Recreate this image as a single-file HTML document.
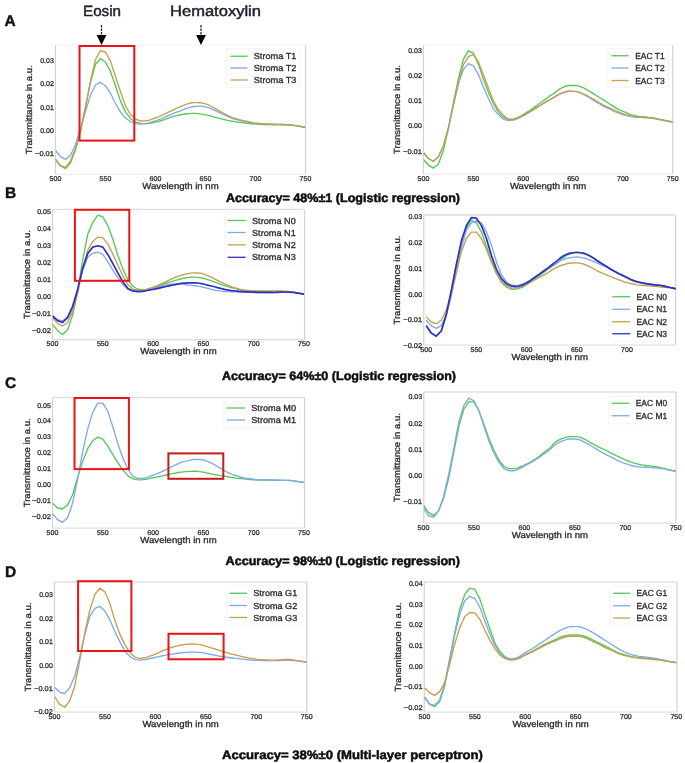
<!DOCTYPE html><html><head><meta charset="utf-8"><style>html,body{margin:0;padding:0;background:#fff;}svg{display:block;filter:blur(0.45px);}</style></head><body>
<svg width="685" height="763" viewBox="0 0 685 763" font-family='"Liberation Sans", sans-serif' text-rendering="geometricPrecision">
<rect width="685" height="763" fill="#ffffff"/>
<clipPath id="clipAL"><rect x="55.5" y="45" width="250.0" height="129.4"/></clipPath>
<line x1="55.5" y1="45" x2="305.5" y2="45" stroke="#f7f7f7" stroke-width="1.3"/>
<line x1="55.5" y1="174.4" x2="305.5" y2="174.4" stroke="#efefef" stroke-width="1.3"/>
<line x1="55.5" y1="45" x2="55.5" y2="174.4" stroke="#d2d2d2" stroke-width="1.2"/>
<line x1="305.5" y1="45" x2="305.5" y2="174.4" stroke="#d2d2d2" stroke-width="1.2"/>
<text x="53.90" y="62.70" font-size="7.0" text-anchor="end" fill="#333333" stroke="#333333" stroke-width="0.3" textLength="13.69" lengthAdjust="spacingAndGlyphs">0.03</text>
<text x="53.90" y="86.10" font-size="7.0" text-anchor="end" fill="#333333" stroke="#333333" stroke-width="0.3" textLength="13.69" lengthAdjust="spacingAndGlyphs">0.02</text>
<text x="53.90" y="109.50" font-size="7.0" text-anchor="end" fill="#333333" stroke="#333333" stroke-width="0.3" textLength="13.69" lengthAdjust="spacingAndGlyphs">0.01</text>
<text x="53.90" y="132.90" font-size="7.0" text-anchor="end" fill="#333333" stroke="#333333" stroke-width="0.3" textLength="13.69" lengthAdjust="spacingAndGlyphs">0.00</text>
<text x="53.90" y="156.30" font-size="7.0" text-anchor="end" fill="#333333" stroke="#333333" stroke-width="0.3" textLength="18.84" lengthAdjust="spacingAndGlyphs">−0.01</text>
<text x="55.50" y="180.80" font-size="7.0" text-anchor="middle" fill="#333333" stroke="#333333" stroke-width="0.3" textLength="11.73" lengthAdjust="spacingAndGlyphs">500</text>
<text x="105.50" y="180.80" font-size="7.0" text-anchor="middle" fill="#333333" stroke="#333333" stroke-width="0.3" textLength="11.73" lengthAdjust="spacingAndGlyphs">550</text>
<text x="155.50" y="180.80" font-size="7.0" text-anchor="middle" fill="#333333" stroke="#333333" stroke-width="0.3" textLength="11.73" lengthAdjust="spacingAndGlyphs">600</text>
<text x="205.50" y="180.80" font-size="7.0" text-anchor="middle" fill="#333333" stroke="#333333" stroke-width="0.3" textLength="11.73" lengthAdjust="spacingAndGlyphs">650</text>
<text x="255.50" y="180.80" font-size="7.0" text-anchor="middle" fill="#333333" stroke="#333333" stroke-width="0.3" textLength="11.73" lengthAdjust="spacingAndGlyphs">700</text>
<text x="305.50" y="180.80" font-size="7.0" text-anchor="middle" fill="#333333" stroke="#333333" stroke-width="0.3" textLength="11.73" lengthAdjust="spacingAndGlyphs">750</text>
<text x="180.50" y="188.90" font-size="8.9" text-anchor="middle" fill="#2a2a2a" stroke="#2a2a2a" stroke-width="0.3" textLength="76.34" lengthAdjust="spacingAndGlyphs">Wavelength in nm</text>
<text transform="translate(32.40,109.70) rotate(-90)" x="0" y="0" font-size="8.9" text-anchor="middle" fill="#2a2a2a" stroke="#2a2a2a" stroke-width="0.3" textLength="88.98" lengthAdjust="spacingAndGlyphs">Transmittance in a.u.</text>
<g clip-path="url(#clipAL)" fill="none" stroke-width="1.45" stroke-linejoin="round">
<polyline points="55.50,159.42 60.50,165.73 65.50,167.37 70.50,161.05 75.50,148.42 80.50,130.40 85.50,106.30 90.50,82.43 95.50,64.18 100.50,58.56 105.50,62.31 110.50,71.43 115.50,85.94 120.50,101.15 125.50,112.15 130.50,118.70 135.50,121.98 140.50,123.38 145.50,123.61 147.50,123.53 149.50,123.30 151.50,122.98 153.50,122.60 155.50,122.21 157.50,121.75 159.50,121.17 161.50,120.51 163.50,119.83 165.50,119.17 167.50,118.50 169.50,117.79 171.50,117.09 173.50,116.44 175.50,115.89 177.50,115.43 179.50,115.00 181.50,114.62 183.50,114.29 185.50,114.02 187.50,113.78 189.50,113.55 191.50,113.38 193.50,113.32 195.50,113.41 197.50,113.62 199.50,113.89 201.50,114.15 203.50,114.45 205.50,114.80 207.50,115.19 209.50,115.66 211.50,116.21 213.50,116.79 215.50,117.33 217.50,117.88 219.50,118.42 221.50,118.93 223.50,119.43 225.50,119.92 227.50,120.37 229.50,120.76 231.50,121.11 233.50,121.43 235.50,121.74 237.50,122.05 239.50,122.35 241.50,122.64 243.50,122.91 245.50,123.15 247.50,123.37 249.50,123.58 251.50,123.77 253.50,123.94 255.50,124.08 257.50,124.20 259.50,124.31 261.50,124.40 263.50,124.48 265.50,124.55 267.50,124.61 269.50,124.66 271.50,124.70 273.50,124.75 275.50,124.78 277.50,124.82 279.50,124.84 281.50,124.86 283.50,124.88 285.50,124.91 287.50,124.94 289.50,124.99 291.50,125.07 293.50,125.31 295.50,125.63 297.50,125.95 299.50,126.27 301.50,126.61 303.50,126.97 305.50,127.36" stroke="#55c855" stroke-width="1.35"/>
<polyline points="55.50,150.29 60.50,156.61 65.50,159.42 70.50,155.20 75.50,144.67 80.50,128.29 85.50,111.68 90.50,95.07 95.50,85.00 100.50,82.20 105.50,85.94 110.50,93.19 115.50,103.49 120.50,112.15 125.50,118.23 130.50,121.51 135.50,123.61 140.50,124.08 145.50,123.61 147.50,123.26 149.50,122.75 151.50,122.14 153.50,121.48 155.50,120.81 157.50,120.10 159.50,119.32 161.50,118.50 163.50,117.66 165.50,116.83 167.50,115.99 169.50,115.14 171.50,114.28 173.50,113.43 175.50,112.62 177.50,111.82 179.50,111.04 181.50,110.28 183.50,109.55 185.50,108.87 187.50,108.18 189.50,107.48 191.50,106.90 193.50,106.53 195.50,106.33 197.50,106.17 199.50,106.08 201.50,106.11 203.50,106.42 205.50,106.92 207.50,107.47 209.50,108.12 211.50,108.94 213.50,109.84 215.50,110.72 217.50,111.64 219.50,112.60 221.50,113.55 223.50,114.51 225.50,115.48 227.50,116.40 229.50,117.24 231.50,118.03 233.50,118.76 235.50,119.40 237.50,119.95 239.50,120.46 241.50,120.92 243.50,121.34 245.50,121.74 247.50,122.14 249.50,122.53 251.50,122.88 253.50,123.18 255.50,123.38 257.50,123.51 259.50,123.60 261.50,123.69 263.50,123.76 265.50,123.85 267.50,123.94 269.50,124.04 271.50,124.14 273.50,124.23 275.50,124.32 277.50,124.38 279.50,124.43 281.50,124.48 283.50,124.53 285.50,124.58 287.50,124.64 289.50,124.73 291.50,124.87 293.50,125.17 295.50,125.57 297.50,125.95 299.50,126.30 301.50,126.65 303.50,127.00 305.50,127.36" stroke="#80a8ea" stroke-width="1.35"/>
<polyline points="55.50,159.42 60.50,165.97 65.50,168.54 70.50,162.93 75.50,150.29 80.50,131.80 85.50,107.94 90.50,80.56 95.50,59.50 100.50,50.61 105.50,52.01 110.50,61.14 115.50,76.81 120.50,91.79 125.50,105.83 130.50,114.49 135.50,118.93 140.50,121.04 145.50,120.81 147.50,120.53 149.50,120.04 151.50,119.41 153.50,118.71 155.50,118.00 157.50,117.24 159.50,116.38 161.50,115.44 163.50,114.49 165.50,113.55 167.50,112.62 169.50,111.67 171.50,110.72 173.50,109.78 175.50,108.87 177.50,107.97 179.50,107.06 181.50,106.18 183.50,105.37 185.50,104.66 187.50,103.97 189.50,103.29 191.50,102.76 193.50,102.55 195.50,102.58 197.50,102.64 199.50,102.73 201.50,102.89 203.50,103.33 205.50,103.96 207.50,104.66 209.50,105.49 211.50,106.52 213.50,107.63 215.50,108.71 217.50,109.85 219.50,111.01 221.50,112.15 223.50,113.27 225.50,114.40 227.50,115.43 229.50,116.32 231.50,117.11 233.50,117.82 235.50,118.47 237.50,119.05 239.50,119.59 241.50,120.09 243.50,120.57 245.50,121.04 247.50,121.52 249.50,122.01 251.50,122.48 253.50,122.87 255.50,123.15 257.50,123.34 259.50,123.49 261.50,123.62 263.50,123.74 265.50,123.85 267.50,123.96 269.50,124.06 271.50,124.16 273.50,124.25 275.50,124.32 277.50,124.37 279.50,124.41 281.50,124.44 283.50,124.49 285.50,124.55 287.50,124.67 289.50,124.86 291.50,125.10 293.50,125.37 295.50,125.66 297.50,125.95 299.50,126.26 301.50,126.60 303.50,126.97 305.50,127.36" stroke="#c69e4e" stroke-width="1.35"/>
</g>
<rect x="227" y="48.75" width="73" height="38.75" rx="1.5" fill="#ffffff" fill-opacity="0.85" stroke="#f2f2f2" stroke-width="0.8"/>
<line x1="230.5" y1="56.25" x2="247.5" y2="56.25" stroke="#55c855" stroke-width="1.3"/>
<text x="253.75" y="59.25" font-size="8.7" fill="#2a2a2a" stroke="#2a2a2a" stroke-width="0.3" textLength="42.66" lengthAdjust="spacingAndGlyphs">Stroma T1</text>
<line x1="230.5" y1="68" x2="247.5" y2="68" stroke="#80a8ea" stroke-width="1.3"/>
<text x="253.75" y="71.00" font-size="8.7" fill="#2a2a2a" stroke="#2a2a2a" stroke-width="0.3" textLength="42.66" lengthAdjust="spacingAndGlyphs">Stroma T2</text>
<line x1="230.5" y1="80" x2="247.5" y2="80" stroke="#c69e4e" stroke-width="1.3"/>
<text x="253.75" y="83.00" font-size="8.7" fill="#2a2a2a" stroke="#2a2a2a" stroke-width="0.3" textLength="42.66" lengthAdjust="spacingAndGlyphs">Stroma T3</text>
<rect x="79.5" y="46" width="54.80" height="94.60" fill="none" stroke="#ec1313" stroke-width="2"/>
<clipPath id="clipAR"><rect x="423.5" y="45" width="249.25" height="129.1"/></clipPath>
<line x1="423.5" y1="45" x2="672.75" y2="45" stroke="#f7f7f7" stroke-width="1.3"/>
<line x1="423.5" y1="174.1" x2="672.75" y2="174.1" stroke="#efefef" stroke-width="1.3"/>
<line x1="423.5" y1="45" x2="423.5" y2="174.1" stroke="#d2d2d2" stroke-width="1.2"/>
<line x1="672.75" y1="45" x2="672.75" y2="174.1" stroke="#d2d2d2" stroke-width="1.2"/>
<text x="421.90" y="53.10" font-size="7.0" text-anchor="end" fill="#333333" stroke="#333333" stroke-width="0.3" textLength="13.69" lengthAdjust="spacingAndGlyphs">0.03</text>
<text x="421.90" y="78.20" font-size="7.0" text-anchor="end" fill="#333333" stroke="#333333" stroke-width="0.3" textLength="13.69" lengthAdjust="spacingAndGlyphs">0.02</text>
<text x="421.90" y="103.30" font-size="7.0" text-anchor="end" fill="#333333" stroke="#333333" stroke-width="0.3" textLength="13.69" lengthAdjust="spacingAndGlyphs">0.01</text>
<text x="421.90" y="128.40" font-size="7.0" text-anchor="end" fill="#333333" stroke="#333333" stroke-width="0.3" textLength="13.69" lengthAdjust="spacingAndGlyphs">0.00</text>
<text x="421.90" y="153.50" font-size="7.0" text-anchor="end" fill="#333333" stroke="#333333" stroke-width="0.3" textLength="18.84" lengthAdjust="spacingAndGlyphs">−0.01</text>
<text x="423.50" y="180.50" font-size="7.0" text-anchor="middle" fill="#333333" stroke="#333333" stroke-width="0.3" textLength="11.73" lengthAdjust="spacingAndGlyphs">500</text>
<text x="473.35" y="180.50" font-size="7.0" text-anchor="middle" fill="#333333" stroke="#333333" stroke-width="0.3" textLength="11.73" lengthAdjust="spacingAndGlyphs">550</text>
<text x="523.20" y="180.50" font-size="7.0" text-anchor="middle" fill="#333333" stroke="#333333" stroke-width="0.3" textLength="11.73" lengthAdjust="spacingAndGlyphs">600</text>
<text x="573.05" y="180.50" font-size="7.0" text-anchor="middle" fill="#333333" stroke="#333333" stroke-width="0.3" textLength="11.73" lengthAdjust="spacingAndGlyphs">650</text>
<text x="622.90" y="180.50" font-size="7.0" text-anchor="middle" fill="#333333" stroke="#333333" stroke-width="0.3" textLength="11.73" lengthAdjust="spacingAndGlyphs">700</text>
<text x="672.75" y="180.50" font-size="7.0" text-anchor="middle" fill="#333333" stroke="#333333" stroke-width="0.3" textLength="11.73" lengthAdjust="spacingAndGlyphs">750</text>
<text x="548.12" y="188.60" font-size="8.9" text-anchor="middle" fill="#2a2a2a" stroke="#2a2a2a" stroke-width="0.3" textLength="76.34" lengthAdjust="spacingAndGlyphs">Wavelength in nm</text>
<text transform="translate(399.90,109.55) rotate(-90)" x="0" y="0" font-size="8.9" text-anchor="middle" fill="#2a2a2a" stroke="#2a2a2a" stroke-width="0.3" textLength="88.98" lengthAdjust="spacingAndGlyphs">Transmittance in a.u.</text>
<g clip-path="url(#clipAR)" fill="none" stroke-width="1.45" stroke-linejoin="round">
<polyline points="423.50,159.53 428.49,165.06 433.47,168.07 438.45,164.05 443.44,150.25 448.43,128.41 453.41,102.56 458.39,78.71 463.38,59.39 468.37,50.85 473.35,53.11 478.33,64.15 483.32,78.71 488.31,92.02 493.29,103.31 498.27,111.84 503.26,117.37 508.25,119.37 513.23,119.12 515.22,118.65 517.22,117.81 519.21,116.90 521.21,115.80 523.20,114.61 525.19,113.39 527.19,112.11 529.18,110.80 531.18,109.45 533.17,108.08 535.16,106.67 537.16,105.21 539.15,103.73 541.15,102.25 543.14,100.80 545.13,99.37 547.13,97.95 549.12,96.55 551.12,95.15 553.11,93.77 555.10,92.33 557.10,90.84 559.09,89.43 561.09,88.23 563.08,87.31 565.07,86.44 567.07,85.76 569.06,85.49 571.06,85.49 573.05,85.49 575.04,85.49 577.04,85.56 579.03,86.08 581.03,86.89 583.02,87.75 585.01,88.67 587.01,89.75 589.00,90.92 591.00,92.12 592.99,93.41 594.98,94.74 596.98,96.03 598.97,97.26 600.97,98.47 602.96,99.68 604.95,100.93 606.95,102.23 608.94,103.54 610.94,104.82 612.93,106.10 614.92,107.37 616.92,108.55 618.91,109.57 620.91,110.46 622.90,111.28 624.89,112.09 626.89,112.95 628.88,113.80 630.88,114.55 632.87,115.13 634.86,115.62 636.86,116.03 638.85,116.36 640.85,116.61 642.84,116.82 644.83,117.01 646.83,117.22 648.82,117.41 650.82,117.62 652.81,117.87 654.80,118.23 656.80,118.68 658.79,119.15 660.79,119.59 662.78,120.02 664.77,120.45 666.77,120.88 668.76,121.30 670.76,121.72 672.75,122.14" stroke="#55c855" stroke-width="1.35"/>
<polyline points="423.50,152.51 428.49,158.53 433.47,161.29 438.45,156.77 443.44,145.73 448.43,127.41 453.41,104.31 458.39,83.23 463.38,69.68 468.37,63.65 473.35,65.91 478.33,74.19 483.32,87.00 488.31,98.29 493.29,108.83 498.27,114.61 503.26,119.12 508.25,120.63 513.23,120.13 515.22,119.65 517.22,118.89 519.21,117.94 521.21,116.89 523.20,115.86 525.19,114.79 527.19,113.61 529.18,112.36 531.18,111.09 533.17,109.84 535.16,108.59 537.16,107.32 539.15,106.05 541.15,104.79 543.14,103.56 545.13,102.37 547.13,101.19 549.12,100.04 551.12,98.90 553.11,97.79 555.10,96.63 557.10,95.45 559.09,94.33 561.09,93.39 563.08,92.68 565.07,92.00 567.07,91.47 569.06,91.26 571.06,91.28 573.05,91.35 575.04,91.45 577.04,91.66 579.03,92.33 581.03,93.29 583.02,94.27 585.01,95.25 587.01,96.33 589.00,97.47 591.00,98.62 592.99,99.84 594.98,101.09 596.98,102.31 598.97,103.50 600.97,104.67 602.96,105.79 604.95,106.82 606.95,107.77 608.94,108.67 610.94,109.59 612.93,110.55 614.92,111.53 616.92,112.44 618.91,113.22 620.91,113.92 622.90,114.55 624.89,115.11 626.89,115.61 628.88,116.07 630.88,116.46 632.87,116.75 634.86,117.01 636.86,117.22 638.85,117.37 640.85,117.45 642.84,117.51 644.83,117.57 646.83,117.68 648.82,117.87 650.82,118.11 652.81,118.37 654.80,118.68 656.80,119.05 658.79,119.44 660.79,119.80 662.78,120.15 664.77,120.51 666.77,120.88 668.76,121.28 670.76,121.70 672.75,122.14" stroke="#80a8ea" stroke-width="1.35"/>
<polyline points="423.50,153.01 428.49,158.53 433.47,161.29 438.45,156.77 443.44,145.73 448.43,128.41 453.41,105.32 458.39,83.23 463.38,64.91 468.37,56.62 473.35,54.62 478.33,61.90 483.32,74.19 488.31,87.75 493.29,100.80 498.27,109.59 503.26,115.36 508.25,119.12 513.23,119.12 515.22,118.77 517.22,118.00 519.21,117.23 521.21,116.33 523.20,115.36 525.19,114.34 527.19,113.27 529.18,112.15 531.18,111.00 533.17,109.84 535.16,108.62 537.16,107.36 539.15,106.07 541.15,104.80 543.14,103.56 545.13,102.37 547.13,101.19 549.12,100.04 551.12,98.90 553.11,97.79 555.10,96.63 557.10,95.45 559.09,94.33 561.09,93.39 563.08,92.68 565.07,92.00 567.07,91.47 569.06,91.26 571.06,91.29 573.05,91.35 575.04,91.45 577.04,91.64 579.03,92.18 581.03,92.95 583.02,93.77 585.01,94.65 587.01,95.67 589.00,96.75 591.00,97.83 592.99,98.97 594.98,100.14 596.98,101.30 598.97,102.47 600.97,103.65 602.96,104.79 604.95,105.82 606.95,106.76 608.94,107.67 610.94,108.58 612.93,109.54 614.92,110.51 616.92,111.42 618.91,112.24 620.91,113.01 622.90,113.72 624.89,114.35 626.89,114.93 628.88,115.46 630.88,115.92 632.87,116.29 634.86,116.61 636.86,116.89 638.85,117.12 640.85,117.28 642.84,117.41 644.83,117.54 646.83,117.71 648.82,117.90 650.82,118.12 652.81,118.37 654.80,118.68 656.80,119.05 658.79,119.44 660.79,119.80 662.78,120.15 664.77,120.51 666.77,120.88 668.76,121.28 670.76,121.70 672.75,122.14" stroke="#c69e4e" stroke-width="1.35"/>
</g>
<rect x="607.75" y="48.75" width="60.5" height="38.75" rx="1.5" fill="#ffffff" fill-opacity="0.85" stroke="#f2f2f2" stroke-width="0.8"/>
<line x1="611.5" y1="55.75" x2="628.5" y2="55.75" stroke="#55c855" stroke-width="1.3"/>
<text x="635.25" y="58.75" font-size="8.7" fill="#2a2a2a" stroke="#2a2a2a" stroke-width="0.3" textLength="29.35" lengthAdjust="spacingAndGlyphs">EAC T1</text>
<line x1="611.5" y1="68" x2="628.5" y2="68" stroke="#80a8ea" stroke-width="1.3"/>
<text x="635.25" y="71.00" font-size="8.7" fill="#2a2a2a" stroke="#2a2a2a" stroke-width="0.3" textLength="29.35" lengthAdjust="spacingAndGlyphs">EAC T2</text>
<line x1="611.5" y1="80.5" x2="628.5" y2="80.5" stroke="#c69e4e" stroke-width="1.3"/>
<text x="635.25" y="83.50" font-size="8.7" fill="#2a2a2a" stroke="#2a2a2a" stroke-width="0.3" textLength="29.35" lengthAdjust="spacingAndGlyphs">EAC T3</text>
<clipPath id="clipBL"><rect x="52.5" y="209.5" width="252.0" height="130.25"/></clipPath>
<line x1="52.5" y1="209.5" x2="304.5" y2="209.5" stroke="#e0e0e0" stroke-width="1.3"/>
<line x1="52.5" y1="339.75" x2="304.5" y2="339.75" stroke="#e0e0e0" stroke-width="1.3"/>
<line x1="52.5" y1="209.5" x2="52.5" y2="339.75" stroke="#d2d2d2" stroke-width="1.2"/>
<line x1="304.5" y1="209.5" x2="304.5" y2="339.75" stroke="#d2d2d2" stroke-width="1.2"/>
<text x="50.90" y="213.65" font-size="7.0" text-anchor="end" fill="#333333" stroke="#333333" stroke-width="0.3" textLength="13.69" lengthAdjust="spacingAndGlyphs">0.05</text>
<text x="50.90" y="230.70" font-size="7.0" text-anchor="end" fill="#333333" stroke="#333333" stroke-width="0.3" textLength="13.69" lengthAdjust="spacingAndGlyphs">0.04</text>
<text x="50.90" y="247.75" font-size="7.0" text-anchor="end" fill="#333333" stroke="#333333" stroke-width="0.3" textLength="13.69" lengthAdjust="spacingAndGlyphs">0.03</text>
<text x="50.90" y="264.80" font-size="7.0" text-anchor="end" fill="#333333" stroke="#333333" stroke-width="0.3" textLength="13.69" lengthAdjust="spacingAndGlyphs">0.02</text>
<text x="50.90" y="281.85" font-size="7.0" text-anchor="end" fill="#333333" stroke="#333333" stroke-width="0.3" textLength="13.69" lengthAdjust="spacingAndGlyphs">0.01</text>
<text x="50.90" y="298.90" font-size="7.0" text-anchor="end" fill="#333333" stroke="#333333" stroke-width="0.3" textLength="13.69" lengthAdjust="spacingAndGlyphs">0.00</text>
<text x="50.90" y="315.95" font-size="7.0" text-anchor="end" fill="#333333" stroke="#333333" stroke-width="0.3" textLength="18.84" lengthAdjust="spacingAndGlyphs">−0.01</text>
<text x="50.90" y="333.00" font-size="7.0" text-anchor="end" fill="#333333" stroke="#333333" stroke-width="0.3" textLength="18.84" lengthAdjust="spacingAndGlyphs">−0.02</text>
<text x="52.50" y="346.15" font-size="7.0" text-anchor="middle" fill="#333333" stroke="#333333" stroke-width="0.3" textLength="11.73" lengthAdjust="spacingAndGlyphs">500</text>
<text x="102.80" y="346.15" font-size="7.0" text-anchor="middle" fill="#333333" stroke="#333333" stroke-width="0.3" textLength="11.73" lengthAdjust="spacingAndGlyphs">550</text>
<text x="153.10" y="346.15" font-size="7.0" text-anchor="middle" fill="#333333" stroke="#333333" stroke-width="0.3" textLength="11.73" lengthAdjust="spacingAndGlyphs">600</text>
<text x="203.40" y="346.15" font-size="7.0" text-anchor="middle" fill="#333333" stroke="#333333" stroke-width="0.3" textLength="11.73" lengthAdjust="spacingAndGlyphs">650</text>
<text x="253.70" y="346.15" font-size="7.0" text-anchor="middle" fill="#333333" stroke="#333333" stroke-width="0.3" textLength="11.73" lengthAdjust="spacingAndGlyphs">700</text>
<text x="304.00" y="346.15" font-size="7.0" text-anchor="middle" fill="#333333" stroke="#333333" stroke-width="0.3" textLength="11.73" lengthAdjust="spacingAndGlyphs">750</text>
<text x="178.50" y="354.25" font-size="8.9" text-anchor="middle" fill="#2a2a2a" stroke="#2a2a2a" stroke-width="0.3" textLength="76.34" lengthAdjust="spacingAndGlyphs">Wavelength in nm</text>
<text transform="translate(29.50,274.62) rotate(-90)" x="0" y="0" font-size="8.9" text-anchor="middle" fill="#2a2a2a" stroke="#2a2a2a" stroke-width="0.3" textLength="88.98" lengthAdjust="spacingAndGlyphs">Transmittance in a.u.</text>
<g clip-path="url(#clipBL)" fill="none" stroke-width="1.45" stroke-linejoin="round">
<polyline points="52.50,324.36 57.53,330.67 62.56,334.42 67.59,329.82 72.62,315.15 77.65,291.28 82.68,260.08 87.71,234.34 92.74,222.40 97.77,215.07 102.80,216.95 107.83,225.64 112.86,239.28 117.89,255.48 122.92,269.12 127.95,279.69 132.98,286.51 138.01,289.24 143.04,289.75 145.05,289.60 147.06,289.26 149.08,288.84 151.09,288.21 153.10,287.53 155.11,286.90 157.12,286.25 159.14,285.60 161.15,284.95 163.16,284.29 165.17,283.64 167.18,282.97 169.20,282.31 171.21,281.67 173.22,281.05 175.23,280.45 177.24,279.83 179.26,279.24 181.27,278.73 183.28,278.33 185.29,277.99 187.30,277.67 189.32,277.39 191.33,277.20 193.34,277.13 195.35,277.19 197.36,277.34 199.38,277.56 201.39,277.82 203.40,278.22 205.41,278.84 207.42,279.53 209.44,280.20 211.45,280.92 213.46,281.67 215.47,282.42 217.48,283.17 219.50,283.92 221.51,284.64 223.52,285.29 225.53,285.89 227.54,286.46 229.56,287.02 231.57,287.59 233.58,288.14 235.59,288.66 237.60,289.13 239.62,289.58 241.63,289.98 243.64,290.26 245.65,290.44 247.66,290.58 249.68,290.71 251.69,290.85 253.70,291.02 255.71,291.17 257.72,291.27 259.74,291.28 261.75,291.28 263.76,291.28 265.77,291.28 267.78,291.28 269.80,291.28 271.81,291.28 273.82,291.28 275.83,291.28 277.84,291.28 279.86,291.29 281.87,291.33 283.88,291.41 285.89,291.52 287.90,291.65 289.92,291.80 291.93,291.97 293.94,292.21 295.95,292.57 297.96,292.97 299.98,293.35 301.99,293.76 304.00,294.18" stroke="#55c855" stroke-width="1.35"/>
<polyline points="52.50,315.15 57.53,319.76 62.56,320.95 67.59,316.86 72.62,305.78 77.65,289.41 82.68,270.14 87.71,257.36 92.74,253.09 97.77,252.24 102.80,254.46 107.83,261.96 112.86,270.14 117.89,277.64 122.92,284.46 127.95,289.41 132.98,291.28 138.01,291.28 143.04,290.94 145.05,290.56 147.06,290.01 149.08,289.52 151.09,289.05 153.10,288.56 155.11,287.99 157.12,287.37 159.14,286.74 161.15,286.15 163.16,285.66 165.17,285.21 167.18,284.75 169.20,284.35 171.21,284.06 173.22,283.95 175.23,283.96 177.24,283.98 179.26,284.01 181.27,284.06 183.28,284.12 185.29,284.50 187.30,284.98 189.32,285.20 191.33,285.37 193.34,285.55 195.35,285.79 197.36,286.10 199.38,286.46 201.39,286.85 203.40,287.30 205.41,287.79 207.42,288.31 209.44,288.81 211.45,289.33 213.46,289.84 215.47,290.26 217.48,290.62 219.50,290.94 221.51,291.20 223.52,291.35 225.53,291.46 227.54,291.54 229.56,291.63 231.57,291.72 233.58,291.82 235.59,291.92 237.60,292.02 239.62,292.13 241.63,292.23 243.64,292.31 245.65,292.36 247.66,292.41 249.68,292.44 251.69,292.47 253.70,292.48 255.71,292.48 257.72,292.48 259.74,292.48 261.75,292.48 263.76,292.48 265.77,292.48 267.78,292.48 269.80,292.48 271.81,292.48 273.82,292.48 275.83,292.44 277.84,292.36 279.86,292.26 281.87,292.17 283.88,292.14 285.89,292.14 287.90,292.14 289.92,292.14 291.93,292.14 293.94,292.27 295.95,292.59 297.96,292.98 299.98,293.34 301.99,293.74 304.00,294.18" stroke="#80a8ea" stroke-width="1.35"/>
<polyline points="52.50,317.71 57.53,323.34 62.56,326.07 67.59,322.49 72.62,311.40 77.65,293.16 82.68,269.12 87.71,250.02 92.74,241.67 97.77,237.07 102.80,237.92 107.83,243.89 112.86,254.12 117.89,265.20 122.92,275.94 127.95,284.81 132.98,289.07 138.01,290.26 143.04,290.26 145.05,289.98 147.06,289.38 149.08,288.75 151.09,288.00 153.10,287.19 155.11,286.38 157.12,285.55 159.14,284.69 161.15,283.81 163.16,282.93 165.17,282.02 167.18,281.07 169.20,280.12 171.21,279.20 173.22,278.33 175.23,277.49 177.24,276.68 179.26,275.92 181.27,275.26 183.28,274.66 185.29,274.13 187.30,273.72 189.32,273.38 191.33,273.08 193.34,272.90 195.35,272.88 197.36,272.98 199.38,273.16 201.39,273.38 203.40,273.84 205.41,274.61 207.42,275.51 209.44,276.37 211.45,277.32 213.46,278.34 215.47,279.35 217.48,280.38 219.50,281.44 221.51,282.46 223.52,283.38 225.53,284.24 227.54,285.06 229.56,285.83 231.57,286.57 233.58,287.27 235.59,287.92 237.60,288.50 239.62,289.06 241.63,289.56 243.64,289.92 245.65,290.17 247.66,290.36 249.68,290.53 251.69,290.68 253.70,290.86 255.71,291.01 257.72,291.10 259.74,291.11 261.75,291.11 263.76,291.11 265.77,291.11 267.78,291.11 269.80,291.11 271.81,291.11 273.82,291.11 275.83,291.11 277.84,291.11 279.86,291.12 281.87,291.17 283.88,291.24 285.89,291.34 287.90,291.50 289.92,291.72 291.93,291.97 293.94,292.25 295.95,292.60 297.96,292.97 299.98,293.35 301.99,293.76 304.00,294.18" stroke="#c69e4e" stroke-width="1.35"/>
<polyline points="52.50,316.01 57.53,320.61 62.56,322.49 67.59,317.71 72.62,306.80 77.65,289.41 82.68,268.27 87.71,253.60 92.74,247.13 97.77,245.76 102.80,247.13 107.83,254.46 112.86,263.66 117.89,272.87 122.92,282.08 127.95,288.56 132.98,290.94 138.01,291.63 143.04,291.28 145.05,290.94 147.06,290.47 149.08,290.08 151.09,289.76 153.10,289.41 155.11,289.01 157.12,288.57 159.14,288.11 161.15,287.65 163.16,287.19 165.17,286.74 167.18,286.29 169.20,285.84 171.21,285.40 173.22,284.98 175.23,284.55 177.24,284.12 179.26,283.74 181.27,283.44 183.28,283.22 185.29,283.05 187.30,282.93 189.32,282.86 191.33,282.80 193.34,282.76 195.35,282.79 197.36,282.98 199.38,283.28 201.39,283.61 203.40,284.02 205.41,284.53 207.42,285.06 209.44,285.56 211.45,286.04 213.46,286.52 215.47,287.02 217.48,287.56 219.50,288.13 221.51,288.66 223.52,289.12 225.53,289.55 227.54,289.93 229.56,290.26 231.57,290.55 233.58,290.80 235.59,291.02 237.60,291.20 239.62,291.36 241.63,291.50 243.64,291.63 245.65,291.73 247.66,291.83 249.68,291.92 251.69,292.01 253.70,292.11 255.71,292.21 257.72,292.28 259.74,292.33 261.75,292.36 263.76,292.39 265.77,292.42 267.78,292.45 269.80,292.46 271.81,292.47 273.82,292.48 275.83,292.43 277.84,292.32 279.86,292.19 281.87,292.06 283.88,291.98 285.89,291.98 287.90,292.05 289.92,292.17 291.93,292.31 293.94,292.52 295.95,292.83 297.96,293.17 299.98,293.49 301.99,293.83 304.00,294.18" stroke="#2e2ec8" stroke-width="1.7"/>
</g>
<rect x="225" y="212.5" width="75.75" height="53.0" rx="1.5" fill="#ffffff" fill-opacity="0.85" stroke="#f2f2f2" stroke-width="0.8"/>
<line x1="227.5" y1="220.5" x2="245.6" y2="220.5" stroke="#55c855" stroke-width="1.3"/>
<text x="252.00" y="223.50" font-size="8.7" fill="#2a2a2a" stroke="#2a2a2a" stroke-width="0.3" textLength="43.78" lengthAdjust="spacingAndGlyphs">Stroma N0</text>
<line x1="227.5" y1="232.5" x2="245.6" y2="232.5" stroke="#80a8ea" stroke-width="1.3"/>
<text x="252.00" y="235.50" font-size="8.7" fill="#2a2a2a" stroke="#2a2a2a" stroke-width="0.3" textLength="43.78" lengthAdjust="spacingAndGlyphs">Stroma N1</text>
<line x1="227.5" y1="244.9" x2="245.6" y2="244.9" stroke="#c69e4e" stroke-width="1.3"/>
<text x="252.00" y="247.90" font-size="8.7" fill="#2a2a2a" stroke="#2a2a2a" stroke-width="0.3" textLength="43.78" lengthAdjust="spacingAndGlyphs">Stroma N2</text>
<line x1="227.5" y1="257.3" x2="245.6" y2="257.3" stroke="#2e2ec8" stroke-width="1.3"/>
<text x="252.00" y="260.30" font-size="8.7" fill="#2a2a2a" stroke="#2a2a2a" stroke-width="0.3" textLength="43.78" lengthAdjust="spacingAndGlyphs">Stroma N3</text>
<rect x="74.9" y="209.8" width="54.40" height="71.00" fill="none" stroke="#ec1313" stroke-width="2"/>
<clipPath id="clipBR"><rect x="423.75" y="215" width="252.0" height="130.2"/></clipPath>
<line x1="423.75" y1="215" x2="675.75" y2="215" stroke="#e0e0e0" stroke-width="1.3"/>
<line x1="423.75" y1="345.2" x2="675.75" y2="345.2" stroke="#e0e0e0" stroke-width="1.3"/>
<line x1="423.75" y1="215" x2="423.75" y2="345.2" stroke="#d2d2d2" stroke-width="1.2"/>
<line x1="675.75" y1="215" x2="675.75" y2="345.2" stroke="#d2d2d2" stroke-width="1.2"/>
<text x="422.15" y="219.40" font-size="7.0" text-anchor="end" fill="#333333" stroke="#333333" stroke-width="0.3" textLength="13.69" lengthAdjust="spacingAndGlyphs">0.03</text>
<text x="422.15" y="245.10" font-size="7.0" text-anchor="end" fill="#333333" stroke="#333333" stroke-width="0.3" textLength="13.69" lengthAdjust="spacingAndGlyphs">0.02</text>
<text x="422.15" y="270.80" font-size="7.0" text-anchor="end" fill="#333333" stroke="#333333" stroke-width="0.3" textLength="13.69" lengthAdjust="spacingAndGlyphs">0.01</text>
<text x="422.15" y="296.50" font-size="7.0" text-anchor="end" fill="#333333" stroke="#333333" stroke-width="0.3" textLength="13.69" lengthAdjust="spacingAndGlyphs">0.00</text>
<text x="422.15" y="322.20" font-size="7.0" text-anchor="end" fill="#333333" stroke="#333333" stroke-width="0.3" textLength="18.84" lengthAdjust="spacingAndGlyphs">−0.01</text>
<text x="422.15" y="347.90" font-size="7.0" text-anchor="end" fill="#333333" stroke="#333333" stroke-width="0.3" textLength="18.84" lengthAdjust="spacingAndGlyphs">−0.02</text>
<text x="426.20" y="351.60" font-size="7.0" text-anchor="middle" fill="#333333" stroke="#333333" stroke-width="0.3" textLength="11.73" lengthAdjust="spacingAndGlyphs">500</text>
<text x="476.40" y="351.60" font-size="7.0" text-anchor="middle" fill="#333333" stroke="#333333" stroke-width="0.3" textLength="11.73" lengthAdjust="spacingAndGlyphs">550</text>
<text x="526.60" y="351.60" font-size="7.0" text-anchor="middle" fill="#333333" stroke="#333333" stroke-width="0.3" textLength="11.73" lengthAdjust="spacingAndGlyphs">600</text>
<text x="576.80" y="351.60" font-size="7.0" text-anchor="middle" fill="#333333" stroke="#333333" stroke-width="0.3" textLength="11.73" lengthAdjust="spacingAndGlyphs">650</text>
<text x="627.00" y="351.60" font-size="7.0" text-anchor="middle" fill="#333333" stroke="#333333" stroke-width="0.3" textLength="11.73" lengthAdjust="spacingAndGlyphs">700</text>
<text x="549.75" y="359.70" font-size="8.9" text-anchor="middle" fill="#2a2a2a" stroke="#2a2a2a" stroke-width="0.3" textLength="76.34" lengthAdjust="spacingAndGlyphs">Wavelength in nm</text>
<text transform="translate(400.20,280.10) rotate(-90)" x="0" y="0" font-size="8.9" text-anchor="middle" fill="#2a2a2a" stroke="#2a2a2a" stroke-width="0.3" textLength="88.98" lengthAdjust="spacingAndGlyphs">Transmittance in a.u.</text>
<g clip-path="url(#clipBR)" fill="none" stroke-width="1.45" stroke-linejoin="round">
<polyline points="426.20,325.61 431.22,333.06 436.24,336.40 441.26,331.01 446.28,314.82 451.30,290.66 456.32,264.19 461.34,243.11 466.36,227.44 471.38,219.98 476.40,222.81 481.42,232.06 486.44,245.94 491.46,260.59 496.48,273.44 501.50,282.44 506.52,287.06 511.54,289.37 516.56,289.12 518.57,288.70 520.58,287.98 522.58,287.12 524.59,286.00 526.60,284.75 528.61,283.47 530.62,282.12 532.62,280.71 534.63,279.27 536.64,277.81 538.65,276.31 540.66,274.74 542.66,273.16 544.67,271.60 546.68,270.10 548.69,268.69 550.70,267.34 552.70,266.00 554.71,264.63 556.72,263.16 558.73,261.48 560.74,259.67 562.74,257.97 564.75,256.58 566.76,255.29 568.77,254.26 570.78,253.63 572.78,253.13 574.79,252.76 576.80,252.62 578.81,252.70 580.82,252.92 582.82,253.22 584.83,253.63 586.84,254.39 588.85,255.40 590.86,256.48 592.86,257.67 594.87,259.04 596.88,260.44 598.89,261.74 600.90,262.99 602.90,264.23 604.91,265.47 606.92,266.74 608.93,268.01 610.94,269.25 612.94,270.42 614.95,271.53 616.96,272.61 618.97,273.70 620.98,274.81 622.98,275.94 624.99,277.03 627.00,278.07 629.01,279.10 631.02,280.07 633.02,280.89 635.03,281.58 637.04,282.19 639.05,282.71 641.06,283.17 643.06,283.57 645.07,283.93 647.08,284.23 649.09,284.49 651.10,284.72 653.10,284.91 655.11,285.08 657.12,285.21 659.13,285.34 661.14,285.52 663.14,285.85 665.15,286.32 667.16,286.82 669.17,287.29 671.18,287.74 673.18,288.19 675.19,288.65 677.20,289.12" stroke="#55c855" stroke-width="1.35"/>
<polyline points="426.20,320.21 431.22,325.61 436.24,328.44 441.26,325.61 446.28,314.82 451.30,296.06 456.32,272.41 461.34,248.51 466.36,230.01 471.38,222.81 476.40,221.01 481.42,222.81 486.44,232.06 491.46,245.17 496.48,261.88 501.50,274.73 506.52,282.18 511.54,285.26 516.56,285.52 518.57,285.22 520.58,284.57 522.58,283.89 524.59,283.10 526.60,282.18 528.61,281.12 530.62,279.93 532.62,278.64 534.63,277.32 536.64,276.01 538.65,274.70 540.66,273.35 542.66,271.99 544.67,270.64 546.68,269.33 548.69,268.05 550.70,266.79 552.70,265.55 554.71,264.34 556.72,263.16 558.73,261.95 560.74,260.74 562.74,259.70 564.75,258.97 566.76,258.39 568.77,257.94 570.78,257.61 572.78,257.31 574.79,257.08 576.80,256.99 578.81,257.11 580.82,257.42 582.82,257.81 584.83,258.25 586.84,258.85 588.85,259.57 590.86,260.33 592.86,261.15 594.87,262.05 596.88,262.97 598.89,263.85 600.90,264.71 602.90,265.59 604.91,266.50 606.92,267.49 608.93,268.53 610.94,269.58 612.94,270.62 614.95,271.65 616.96,272.69 618.97,273.70 620.98,274.67 622.98,275.62 624.99,276.56 627.00,277.53 629.01,278.55 631.02,279.54 633.02,280.38 635.03,281.07 637.04,281.67 639.05,282.20 641.06,282.65 643.06,283.04 645.07,283.39 647.08,283.72 649.09,284.04 651.10,284.34 653.10,284.62 655.11,284.87 657.12,285.07 659.13,285.27 661.14,285.52 663.14,285.88 665.15,286.34 667.16,286.83 669.17,287.29 671.18,287.74 673.18,288.19 675.19,288.65 677.20,289.12" stroke="#80a8ea" stroke-width="1.35"/>
<polyline points="426.20,316.87 431.22,322.01 436.24,323.81 441.26,320.21 446.28,309.93 451.30,293.49 456.32,272.41 461.34,252.11 466.36,238.49 471.38,232.06 476.40,232.06 481.42,238.49 486.44,249.54 491.46,262.39 496.48,273.44 501.50,281.15 506.52,285.26 511.54,288.09 516.56,288.09 518.57,287.80 520.58,287.16 522.58,286.40 524.59,285.35 526.60,284.23 528.61,283.17 530.62,282.10 532.62,281.01 534.63,279.92 536.64,278.84 538.65,277.77 540.66,276.71 542.66,275.65 544.67,274.57 546.68,273.44 548.69,272.21 550.70,270.88 552.70,269.54 554.71,268.31 556.72,267.27 558.73,266.42 560.74,265.68 562.74,265.01 564.75,264.39 566.76,263.75 568.77,263.28 570.78,263.10 572.78,262.99 574.79,262.93 576.80,262.90 578.81,263.05 580.82,263.43 582.82,263.93 584.83,264.49 586.84,265.30 588.85,266.27 590.86,267.27 592.86,268.34 594.87,269.49 596.88,270.61 598.89,271.61 600.90,272.51 602.90,273.37 604.91,274.21 606.92,275.04 608.93,275.84 610.94,276.64 612.94,277.44 614.95,278.26 616.96,279.08 618.97,279.87 620.98,280.65 622.98,281.44 624.99,282.14 627.00,282.70 629.01,283.16 631.02,283.58 633.02,283.98 635.03,284.39 637.04,284.80 639.05,285.14 641.06,285.36 643.06,285.51 645.07,285.64 647.08,285.78 649.09,285.92 651.10,286.06 653.10,286.21 655.11,286.39 657.12,286.62 659.13,286.85 661.14,287.06 663.14,287.21 665.15,287.33 667.16,287.48 669.17,287.70 671.18,288.04 673.18,288.49 675.19,289.03 677.20,289.63" stroke="#c69e4e" stroke-width="1.35"/>
<polyline points="426.20,325.61 431.22,333.06 436.24,336.15 441.26,331.01 446.28,314.82 451.30,290.66 456.32,264.96 461.34,241.06 466.36,225.64 471.38,217.67 476.40,218.19 481.42,225.64 486.44,238.49 491.46,255.45 496.48,269.58 501.50,278.58 506.52,283.72 511.54,286.03 516.56,286.55 518.57,286.25 520.58,285.61 522.58,284.90 524.59,284.00 526.60,282.95 528.61,281.76 530.62,280.40 532.62,278.95 534.63,277.46 536.64,276.01 538.65,274.60 540.66,273.17 542.66,271.74 544.67,270.29 546.68,268.81 548.69,267.31 550.70,265.77 552.70,264.21 554.71,262.65 556.72,261.10 558.73,259.46 560.74,257.76 562.74,256.29 564.75,255.21 566.76,254.33 568.77,253.64 570.78,253.18 572.78,252.78 574.79,252.48 576.80,252.37 578.81,252.48 580.82,252.77 582.82,253.18 584.83,253.66 586.84,254.44 588.85,255.42 590.86,256.48 592.86,257.67 594.87,259.04 596.88,260.44 598.89,261.74 600.90,262.99 602.90,264.23 604.91,265.47 606.92,266.74 608.93,268.01 610.94,269.25 612.94,270.42 614.95,271.56 616.96,272.65 618.97,273.70 620.98,274.69 622.98,275.63 624.99,276.56 627.00,277.53 629.01,278.55 631.02,279.54 633.02,280.38 635.03,281.07 637.04,281.67 639.05,282.20 641.06,282.65 643.06,283.04 645.07,283.39 647.08,283.72 649.09,284.04 651.10,284.34 653.10,284.62 655.11,284.87 657.12,285.07 659.13,285.27 661.14,285.52 663.14,285.88 665.15,286.34 667.16,286.83 669.17,287.29 671.18,287.74 673.18,288.19 675.19,288.65 677.20,289.12" stroke="#2e2ec8" stroke-width="1.7"/>
</g>
<rect x="609" y="291.25" width="65" height="50.0" rx="1.5" fill="#ffffff" fill-opacity="0.85" stroke="#f2f2f2" stroke-width="0.8"/>
<line x1="612.25" y1="296.75" x2="630.25" y2="296.75" stroke="#55c855" stroke-width="1.3"/>
<text x="636.50" y="299.75" font-size="8.7" fill="#2a2a2a" stroke="#2a2a2a" stroke-width="0.3" textLength="30.47" lengthAdjust="spacingAndGlyphs">EAC N0</text>
<line x1="612.25" y1="309.25" x2="630.25" y2="309.25" stroke="#80a8ea" stroke-width="1.3"/>
<text x="636.50" y="312.25" font-size="8.7" fill="#2a2a2a" stroke="#2a2a2a" stroke-width="0.3" textLength="30.47" lengthAdjust="spacingAndGlyphs">EAC N1</text>
<line x1="612.25" y1="321.75" x2="630.25" y2="321.75" stroke="#c69e4e" stroke-width="1.3"/>
<text x="636.50" y="324.75" font-size="8.7" fill="#2a2a2a" stroke="#2a2a2a" stroke-width="0.3" textLength="30.47" lengthAdjust="spacingAndGlyphs">EAC N2</text>
<line x1="612.25" y1="333.75" x2="630.25" y2="333.75" stroke="#2e2ec8" stroke-width="1.3"/>
<text x="636.50" y="336.75" font-size="8.7" fill="#2a2a2a" stroke="#2a2a2a" stroke-width="0.3" textLength="30.47" lengthAdjust="spacingAndGlyphs">EAC N3</text>
<clipPath id="clipCL"><rect x="52.5" y="397.5" width="252.0" height="130.70000000000005"/></clipPath>
<line x1="52.5" y1="397.5" x2="304.5" y2="397.5" stroke="#e0e0e0" stroke-width="1.3"/>
<line x1="52.5" y1="528.2" x2="304.5" y2="528.2" stroke="#e0e0e0" stroke-width="1.3"/>
<line x1="52.5" y1="397.5" x2="52.5" y2="528.2" stroke="#d2d2d2" stroke-width="1.2"/>
<line x1="304.5" y1="397.5" x2="304.5" y2="528.2" stroke="#d2d2d2" stroke-width="1.2"/>
<text x="50.90" y="407.55" font-size="7.0" text-anchor="end" fill="#333333" stroke="#333333" stroke-width="0.3" textLength="13.69" lengthAdjust="spacingAndGlyphs">0.05</text>
<text x="50.90" y="423.42" font-size="7.0" text-anchor="end" fill="#333333" stroke="#333333" stroke-width="0.3" textLength="13.69" lengthAdjust="spacingAndGlyphs">0.04</text>
<text x="50.90" y="439.29" font-size="7.0" text-anchor="end" fill="#333333" stroke="#333333" stroke-width="0.3" textLength="13.69" lengthAdjust="spacingAndGlyphs">0.03</text>
<text x="50.90" y="455.16" font-size="7.0" text-anchor="end" fill="#333333" stroke="#333333" stroke-width="0.3" textLength="13.69" lengthAdjust="spacingAndGlyphs">0.02</text>
<text x="50.90" y="471.03" font-size="7.0" text-anchor="end" fill="#333333" stroke="#333333" stroke-width="0.3" textLength="13.69" lengthAdjust="spacingAndGlyphs">0.01</text>
<text x="50.90" y="486.90" font-size="7.0" text-anchor="end" fill="#333333" stroke="#333333" stroke-width="0.3" textLength="13.69" lengthAdjust="spacingAndGlyphs">0.00</text>
<text x="50.90" y="502.77" font-size="7.0" text-anchor="end" fill="#333333" stroke="#333333" stroke-width="0.3" textLength="18.84" lengthAdjust="spacingAndGlyphs">−0.01</text>
<text x="50.90" y="518.64" font-size="7.0" text-anchor="end" fill="#333333" stroke="#333333" stroke-width="0.3" textLength="18.84" lengthAdjust="spacingAndGlyphs">−0.02</text>
<text x="52.50" y="534.60" font-size="7.0" text-anchor="middle" fill="#333333" stroke="#333333" stroke-width="0.3" textLength="11.73" lengthAdjust="spacingAndGlyphs">500</text>
<text x="102.80" y="534.60" font-size="7.0" text-anchor="middle" fill="#333333" stroke="#333333" stroke-width="0.3" textLength="11.73" lengthAdjust="spacingAndGlyphs">550</text>
<text x="153.10" y="534.60" font-size="7.0" text-anchor="middle" fill="#333333" stroke="#333333" stroke-width="0.3" textLength="11.73" lengthAdjust="spacingAndGlyphs">600</text>
<text x="203.40" y="534.60" font-size="7.0" text-anchor="middle" fill="#333333" stroke="#333333" stroke-width="0.3" textLength="11.73" lengthAdjust="spacingAndGlyphs">650</text>
<text x="253.70" y="534.60" font-size="7.0" text-anchor="middle" fill="#333333" stroke="#333333" stroke-width="0.3" textLength="11.73" lengthAdjust="spacingAndGlyphs">700</text>
<text x="304.00" y="534.60" font-size="7.0" text-anchor="middle" fill="#333333" stroke="#333333" stroke-width="0.3" textLength="11.73" lengthAdjust="spacingAndGlyphs">750</text>
<text x="178.50" y="542.70" font-size="8.9" text-anchor="middle" fill="#2a2a2a" stroke="#2a2a2a" stroke-width="0.3" textLength="76.34" lengthAdjust="spacingAndGlyphs">Wavelength in nm</text>
<text transform="translate(29.50,462.85) rotate(-90)" x="0" y="0" font-size="8.9" text-anchor="middle" fill="#2a2a2a" stroke="#2a2a2a" stroke-width="0.3" textLength="88.98" lengthAdjust="spacingAndGlyphs">Transmittance in a.u.</text>
<g clip-path="url(#clipCL)" fill="none" stroke-width="1.45" stroke-linejoin="round">
<polyline points="52.50,503.13 57.53,507.73 62.56,509.00 67.59,504.87 72.62,494.72 77.65,477.26 82.68,461.39 87.71,448.69 92.74,440.76 97.77,437.11 102.80,439.17 107.83,446.15 112.86,454.56 117.89,462.66 122.92,470.12 127.95,475.83 132.98,478.85 138.01,479.80 143.04,479.64 145.05,479.41 147.06,479.04 149.08,478.65 151.09,478.19 153.10,477.73 155.11,477.31 157.12,476.90 159.14,476.50 161.15,476.09 163.16,475.67 165.17,475.23 167.18,474.76 169.20,474.29 171.21,473.85 173.22,473.45 175.23,473.08 177.24,472.72 179.26,472.39 181.27,472.10 183.28,471.86 185.29,471.68 187.30,471.55 189.32,471.42 191.33,471.31 193.34,471.24 195.35,471.25 197.36,471.39 199.38,471.61 201.39,471.86 203.40,472.19 205.41,472.62 207.42,473.08 209.44,473.50 211.45,473.92 213.46,474.34 215.47,474.72 217.48,475.05 219.50,475.36 221.51,475.67 223.52,476.00 225.53,476.37 227.54,476.74 229.56,477.10 231.57,477.45 233.58,477.78 235.59,478.09 237.60,478.32 239.62,478.50 241.63,478.66 243.64,478.85 245.65,479.08 247.66,479.34 249.68,479.56 251.69,479.70 253.70,479.79 255.71,479.86 257.72,479.93 259.74,479.98 261.75,480.04 263.76,480.09 265.77,480.13 267.78,480.17 269.80,480.21 271.81,480.24 273.82,480.27 275.83,480.30 277.84,480.32 279.86,480.33 281.87,480.34 283.88,480.36 285.89,480.38 287.90,480.41 289.92,480.47 291.93,480.66 293.94,480.93 295.95,481.25 297.96,481.57 299.98,481.83 301.99,482.08 304.00,482.34" stroke="#55c855" stroke-width="1.35"/>
<polyline points="52.50,513.76 57.53,519.63 62.56,522.33 67.59,517.73 72.62,503.13 77.65,479.16 82.68,451.71 87.71,428.85 92.74,412.35 97.77,403.15 102.80,403.15 107.83,411.40 112.86,426.95 117.89,443.93 122.92,458.21 127.95,469.16 132.98,476.46 138.01,478.37 143.04,478.37 145.05,478.02 147.06,477.29 149.08,476.62 151.09,475.93 153.10,475.20 155.11,474.43 157.12,473.64 159.14,472.82 161.15,471.96 163.16,471.07 165.17,470.11 167.18,469.07 169.20,468.01 171.21,466.97 173.22,465.99 175.23,465.03 177.24,464.06 179.26,463.14 181.27,462.33 183.28,461.71 185.29,461.29 187.30,460.91 189.32,460.38 191.33,459.80 193.34,459.39 195.35,459.33 197.36,459.39 199.38,459.50 201.39,459.64 203.40,460.01 205.41,460.67 207.42,461.47 209.44,462.28 211.45,463.22 213.46,464.27 215.47,465.36 217.48,466.49 219.50,467.70 221.51,468.90 223.52,470.06 225.53,471.22 227.54,472.32 229.56,473.29 231.57,474.11 233.58,474.85 235.59,475.51 237.60,476.14 239.62,476.74 241.63,477.28 243.64,477.73 245.65,478.10 247.66,478.42 249.68,478.71 251.69,478.99 253.70,479.29 255.71,479.57 257.72,479.76 259.74,479.82 261.75,479.85 263.76,479.87 265.77,479.88 267.78,479.90 269.80,479.91 271.81,479.93 273.82,479.96 275.83,479.99 277.84,480.04 279.86,480.10 281.87,480.17 283.88,480.24 285.89,480.31 287.90,480.38 289.92,480.47 291.93,480.59 293.94,480.83 295.95,481.18 297.96,481.55 299.98,481.84 301.99,482.10 304.00,482.34" stroke="#80a8ea" stroke-width="1.35"/>
</g>
<rect x="223.25" y="401.25" width="76.75" height="26.25" rx="1.5" fill="#ffffff" fill-opacity="0.85" stroke="#f2f2f2" stroke-width="0.8"/>
<line x1="227" y1="408" x2="245" y2="408" stroke="#55c855" stroke-width="1.3"/>
<text x="251.25" y="411.00" font-size="8.7" fill="#2a2a2a" stroke="#2a2a2a" stroke-width="0.3" textLength="44.72" lengthAdjust="spacingAndGlyphs">Stroma M0</text>
<line x1="227" y1="420" x2="245" y2="420" stroke="#80a8ea" stroke-width="1.3"/>
<text x="251.25" y="423.00" font-size="8.7" fill="#2a2a2a" stroke="#2a2a2a" stroke-width="0.3" textLength="44.72" lengthAdjust="spacingAndGlyphs">Stroma M1</text>
<rect x="74.5" y="398" width="54.40" height="71.10" fill="none" stroke="#ec1313" stroke-width="2"/>
<rect x="168.4" y="453.4" width="54.90" height="25.40" fill="none" stroke="#c41c1c" stroke-width="2"/>
<clipPath id="clipCR"><rect x="423.75" y="392" width="252.25" height="131.20000000000005"/></clipPath>
<line x1="423.75" y1="392" x2="676" y2="392" stroke="#e0e0e0" stroke-width="1.3"/>
<line x1="423.75" y1="523.2" x2="676" y2="523.2" stroke="#e0e0e0" stroke-width="1.3"/>
<line x1="423.75" y1="392" x2="423.75" y2="523.2" stroke="#d2d2d2" stroke-width="1.2"/>
<line x1="676" y1="392" x2="676" y2="523.2" stroke="#d2d2d2" stroke-width="1.2"/>
<text x="422.15" y="399.45" font-size="7.0" text-anchor="end" fill="#333333" stroke="#333333" stroke-width="0.3" textLength="13.69" lengthAdjust="spacingAndGlyphs">0.03</text>
<text x="422.15" y="425.70" font-size="7.0" text-anchor="end" fill="#333333" stroke="#333333" stroke-width="0.3" textLength="13.69" lengthAdjust="spacingAndGlyphs">0.02</text>
<text x="422.15" y="451.95" font-size="7.0" text-anchor="end" fill="#333333" stroke="#333333" stroke-width="0.3" textLength="13.69" lengthAdjust="spacingAndGlyphs">0.01</text>
<text x="422.15" y="478.20" font-size="7.0" text-anchor="end" fill="#333333" stroke="#333333" stroke-width="0.3" textLength="13.69" lengthAdjust="spacingAndGlyphs">0.00</text>
<text x="422.15" y="504.45" font-size="7.0" text-anchor="end" fill="#333333" stroke="#333333" stroke-width="0.3" textLength="18.84" lengthAdjust="spacingAndGlyphs">−0.01</text>
<text x="423.50" y="529.60" font-size="7.0" text-anchor="middle" fill="#333333" stroke="#333333" stroke-width="0.3" textLength="11.73" lengthAdjust="spacingAndGlyphs">500</text>
<text x="473.95" y="529.60" font-size="7.0" text-anchor="middle" fill="#333333" stroke="#333333" stroke-width="0.3" textLength="11.73" lengthAdjust="spacingAndGlyphs">550</text>
<text x="524.40" y="529.60" font-size="7.0" text-anchor="middle" fill="#333333" stroke="#333333" stroke-width="0.3" textLength="11.73" lengthAdjust="spacingAndGlyphs">600</text>
<text x="574.85" y="529.60" font-size="7.0" text-anchor="middle" fill="#333333" stroke="#333333" stroke-width="0.3" textLength="11.73" lengthAdjust="spacingAndGlyphs">650</text>
<text x="625.30" y="529.60" font-size="7.0" text-anchor="middle" fill="#333333" stroke="#333333" stroke-width="0.3" textLength="11.73" lengthAdjust="spacingAndGlyphs">700</text>
<text x="675.75" y="529.60" font-size="7.0" text-anchor="middle" fill="#333333" stroke="#333333" stroke-width="0.3" textLength="11.73" lengthAdjust="spacingAndGlyphs">750</text>
<text x="549.88" y="537.70" font-size="8.9" text-anchor="middle" fill="#2a2a2a" stroke="#2a2a2a" stroke-width="0.3" textLength="76.34" lengthAdjust="spacingAndGlyphs">Wavelength in nm</text>
<text transform="translate(400.20,457.60) rotate(-90)" x="0" y="0" font-size="8.9" text-anchor="middle" fill="#2a2a2a" stroke="#2a2a2a" stroke-width="0.3" textLength="88.98" lengthAdjust="spacingAndGlyphs">Transmittance in a.u.</text>
<g clip-path="url(#clipCR)" fill="none" stroke-width="1.45" stroke-linejoin="round">
<polyline points="423.50,505.36 428.55,512.71 433.59,515.60 438.63,510.61 443.68,498.01 448.73,477.80 453.77,452.07 458.81,426.61 463.86,409.02 468.90,401.68 473.95,402.20 479.00,410.86 484.04,424.77 489.08,438.95 494.13,450.76 499.18,460.47 504.22,466.51 509.26,468.61 514.31,468.61 516.33,468.31 518.35,467.64 520.36,466.95 522.38,466.12 524.40,465.20 526.42,464.23 528.44,463.20 530.45,462.10 532.47,460.93 534.49,459.69 536.51,458.33 538.53,456.83 540.54,455.26 542.56,453.65 544.58,452.07 546.60,450.56 548.62,449.00 550.63,447.14 552.65,444.82 554.67,442.65 556.69,441.20 558.71,440.09 560.72,439.18 562.74,438.42 564.76,437.71 566.78,437.06 568.80,436.65 570.81,436.59 572.83,436.59 574.85,436.59 576.87,436.59 578.89,436.88 580.90,437.61 582.92,438.51 584.94,439.41 586.96,440.51 588.98,441.72 590.99,442.89 593.01,443.96 595.03,445.02 597.05,446.05 599.07,447.06 601.08,448.03 603.10,448.99 605.12,449.97 607.14,451.01 609.16,452.08 611.17,453.14 613.19,454.15 615.21,455.14 617.23,456.11 619.25,457.06 621.26,458.00 623.28,458.92 625.30,459.79 627.32,460.62 629.34,461.42 631.35,462.17 633.37,462.84 635.39,463.44 637.41,463.99 639.43,464.47 641.44,464.86 643.46,465.18 645.48,465.46 647.50,465.72 649.52,465.95 651.53,466.16 653.55,466.38 655.57,466.66 657.59,467.01 659.61,467.40 661.62,467.82 663.64,468.31 665.66,468.86 667.68,469.41 669.70,469.90 671.71,470.37 673.73,470.81 675.75,471.24" stroke="#55c855" stroke-width="1.35"/>
<polyline points="423.50,508.25 428.55,515.60 433.59,517.44 438.63,510.88 443.68,496.18 448.73,474.12 453.77,448.66 458.81,421.89 463.86,405.35 468.90,398.00 473.95,400.89 479.00,410.86 484.04,426.61 489.08,441.57 494.13,453.39 499.18,462.57 504.22,468.88 509.26,470.71 514.31,470.71 516.33,470.20 518.35,469.13 520.36,468.13 522.38,467.07 524.40,465.99 526.42,464.92 528.44,463.86 530.45,462.78 532.47,461.66 534.49,460.47 536.51,459.21 538.53,457.88 540.54,456.49 542.56,455.07 544.58,453.65 546.60,452.24 548.62,450.76 550.63,449.09 552.65,447.11 554.67,445.23 556.69,443.81 558.71,442.61 560.72,441.60 562.74,440.79 564.76,440.07 566.78,439.42 568.80,439.01 570.81,438.96 572.83,439.00 574.85,439.09 576.87,439.21 578.89,439.62 580.90,440.41 582.92,441.37 584.94,442.32 586.96,443.40 588.98,444.59 590.99,445.77 593.01,446.96 595.03,448.16 597.05,449.37 599.07,450.58 601.08,451.82 603.10,453.04 605.12,454.18 607.14,455.19 609.16,456.14 611.17,457.09 613.19,458.11 615.21,459.21 617.23,460.29 619.25,461.26 621.26,462.09 623.28,462.85 625.30,463.55 627.32,464.22 629.34,464.89 631.35,465.50 633.37,465.99 635.39,466.38 637.41,466.71 639.43,466.96 641.44,467.09 643.46,467.16 645.48,467.22 647.50,467.30 649.52,467.42 651.53,467.57 653.55,467.74 655.57,467.92 657.59,468.12 659.61,468.35 661.62,468.61 663.64,468.94 665.66,469.33 667.68,469.73 669.70,470.11 671.71,470.49 673.73,470.86 675.75,471.24" stroke="#80a8ea" stroke-width="1.35"/>
</g>
<rect x="608.5" y="396.25" width="63.0" height="27.5" rx="1.5" fill="#ffffff" fill-opacity="0.85" stroke="#f2f2f2" stroke-width="0.8"/>
<line x1="611.5" y1="403.25" x2="629.5" y2="403.25" stroke="#55c855" stroke-width="1.3"/>
<text x="635.75" y="406.25" font-size="8.7" fill="#2a2a2a" stroke="#2a2a2a" stroke-width="0.3" textLength="31.41" lengthAdjust="spacingAndGlyphs">EAC M0</text>
<line x1="611.5" y1="415.75" x2="629.5" y2="415.75" stroke="#80a8ea" stroke-width="1.3"/>
<text x="635.75" y="418.75" font-size="8.7" fill="#2a2a2a" stroke="#2a2a2a" stroke-width="0.3" textLength="31.41" lengthAdjust="spacingAndGlyphs">EAC M1</text>
<clipPath id="clipDL"><rect x="54.5" y="582" width="252.25" height="130.20000000000005"/></clipPath>
<line x1="54.5" y1="582" x2="306.75" y2="582" stroke="#e0e0e0" stroke-width="1.3"/>
<line x1="54.5" y1="712.2" x2="306.75" y2="712.2" stroke="#e0e0e0" stroke-width="1.3"/>
<line x1="54.5" y1="582" x2="54.5" y2="712.2" stroke="#d2d2d2" stroke-width="1.2"/>
<line x1="306.75" y1="582" x2="306.75" y2="712.2" stroke="#d2d2d2" stroke-width="1.2"/>
<text x="52.90" y="597.45" font-size="7.0" text-anchor="end" fill="#333333" stroke="#333333" stroke-width="0.3" textLength="13.69" lengthAdjust="spacingAndGlyphs">0.03</text>
<text x="52.90" y="620.80" font-size="7.0" text-anchor="end" fill="#333333" stroke="#333333" stroke-width="0.3" textLength="13.69" lengthAdjust="spacingAndGlyphs">0.02</text>
<text x="52.90" y="644.15" font-size="7.0" text-anchor="end" fill="#333333" stroke="#333333" stroke-width="0.3" textLength="13.69" lengthAdjust="spacingAndGlyphs">0.01</text>
<text x="52.90" y="667.50" font-size="7.0" text-anchor="end" fill="#333333" stroke="#333333" stroke-width="0.3" textLength="13.69" lengthAdjust="spacingAndGlyphs">0.00</text>
<text x="52.90" y="690.85" font-size="7.0" text-anchor="end" fill="#333333" stroke="#333333" stroke-width="0.3" textLength="18.84" lengthAdjust="spacingAndGlyphs">−0.01</text>
<text x="52.90" y="714.20" font-size="7.0" text-anchor="end" fill="#333333" stroke="#333333" stroke-width="0.3" textLength="18.84" lengthAdjust="spacingAndGlyphs">−0.02</text>
<text x="54.50" y="719.00" font-size="7.0" text-anchor="middle" fill="#333333" stroke="#333333" stroke-width="0.3" textLength="11.73" lengthAdjust="spacingAndGlyphs">500</text>
<text x="104.95" y="719.00" font-size="7.0" text-anchor="middle" fill="#333333" stroke="#333333" stroke-width="0.3" textLength="11.73" lengthAdjust="spacingAndGlyphs">550</text>
<text x="155.40" y="719.00" font-size="7.0" text-anchor="middle" fill="#333333" stroke="#333333" stroke-width="0.3" textLength="11.73" lengthAdjust="spacingAndGlyphs">600</text>
<text x="205.85" y="719.00" font-size="7.0" text-anchor="middle" fill="#333333" stroke="#333333" stroke-width="0.3" textLength="11.73" lengthAdjust="spacingAndGlyphs">650</text>
<text x="256.30" y="719.00" font-size="7.0" text-anchor="middle" fill="#333333" stroke="#333333" stroke-width="0.3" textLength="11.73" lengthAdjust="spacingAndGlyphs">700</text>
<text x="306.75" y="719.00" font-size="7.0" text-anchor="middle" fill="#333333" stroke="#333333" stroke-width="0.3" textLength="11.73" lengthAdjust="spacingAndGlyphs">750</text>
<text x="180.62" y="726.70" font-size="8.9" text-anchor="middle" fill="#2a2a2a" stroke="#2a2a2a" stroke-width="0.3" textLength="76.34" lengthAdjust="spacingAndGlyphs">Wavelength in nm</text>
<text transform="translate(31.00,647.10) rotate(-90)" x="0" y="0" font-size="8.9" text-anchor="middle" fill="#2a2a2a" stroke="#2a2a2a" stroke-width="0.3" textLength="88.98" lengthAdjust="spacingAndGlyphs">Transmittance in a.u.</text>
<g clip-path="url(#clipDL)" fill="none" stroke-width="1.45" stroke-linejoin="round">
<polyline points="54.50,687.18 59.55,692.09 64.59,693.49 69.63,687.65 74.68,676.21 79.72,656.83 84.77,634.88 89.81,616.43 94.86,608.26 99.91,606.39 104.95,611.06 110.00,620.17 115.04,632.08 120.08,642.12 125.13,651.46 130.18,656.83 135.22,659.63 140.26,660.10 145.31,659.63 147.33,659.23 149.35,658.71 151.36,658.23 153.38,657.75 155.40,657.29 157.42,656.85 159.44,656.41 161.45,655.98 163.47,655.58 165.49,655.19 167.51,654.83 169.53,654.48 171.54,654.15 173.56,653.84 175.58,653.56 177.60,653.28 179.62,653.00 181.63,652.74 183.65,652.53 185.67,652.39 187.69,652.30 189.71,652.23 191.72,652.18 193.74,652.16 195.76,652.20 197.78,652.30 199.80,652.45 201.81,652.62 203.83,652.91 205.85,653.35 207.87,653.81 209.89,654.23 211.90,654.63 213.92,655.03 215.94,655.43 217.96,655.84 219.98,656.27 221.99,656.66 224.01,656.98 226.03,657.27 228.05,657.52 230.07,657.76 232.08,657.97 234.10,658.16 236.12,658.35 238.14,658.58 240.16,658.86 242.17,659.14 244.19,659.40 246.21,659.63 248.23,659.86 250.25,660.03 252.26,660.14 254.28,660.22 256.30,660.28 258.32,660.33 260.34,660.38 262.35,660.42 264.37,660.47 266.39,660.51 268.41,660.54 270.43,660.56 272.44,660.56 274.46,660.55 276.48,660.52 278.50,660.47 280.52,660.42 282.53,660.38 284.55,660.34 286.57,660.33 288.59,660.36 290.61,660.42 292.62,660.51 294.64,660.63 296.66,660.81 298.68,661.04 300.70,661.26 302.71,661.49 304.73,661.72 306.75,661.96" stroke="#80a8ea" stroke-width="1.35"/>
<polyline points="54.50,696.29 59.55,704.46 64.59,707.26 69.63,701.19 74.68,686.25 79.72,660.56 84.77,633.01 89.81,610.13 94.86,594.48 99.91,588.18 104.95,591.91 110.00,603.82 115.04,621.10 120.08,634.64 125.13,645.15 130.18,653.09 135.22,657.29 140.26,658.46 145.31,657.76 147.33,657.14 149.35,656.29 151.36,655.52 153.38,654.79 155.40,654.03 157.42,653.17 159.44,652.25 161.45,651.31 163.47,650.40 165.49,649.59 167.51,648.85 169.53,648.14 171.54,647.47 173.56,646.86 175.58,646.32 177.60,645.83 179.62,645.38 181.63,644.99 183.65,644.69 185.67,644.44 187.69,644.21 189.71,644.05 191.72,643.99 193.74,644.05 195.76,644.20 197.78,644.43 199.80,644.69 201.81,645.05 203.83,645.58 205.85,646.18 207.87,646.79 209.89,647.40 211.90,648.05 213.92,648.71 215.94,649.36 217.96,649.97 219.98,650.56 221.99,651.16 224.01,651.76 226.03,652.37 228.05,652.98 230.07,653.56 232.08,654.12 234.10,654.65 236.12,655.17 238.14,655.67 240.16,656.16 242.17,656.62 244.19,657.06 246.21,657.49 248.23,657.91 250.25,658.29 252.26,658.62 254.28,658.92 256.30,659.19 258.32,659.40 260.34,659.56 262.35,659.70 264.37,659.82 266.39,659.91 268.41,660.00 270.43,660.07 272.44,660.10 274.46,660.07 276.48,660.00 278.50,659.91 280.52,659.80 282.53,659.64 284.55,659.47 286.57,659.40 288.59,659.48 290.61,659.70 292.62,659.97 294.64,660.24 296.66,660.58 298.68,660.94 300.70,661.26 302.71,661.53 304.73,661.76 306.75,661.96" stroke="#c69e4e" stroke-width="1.35"/>
</g>
<rect x="226.75" y="585.5" width="75.25" height="39.5" rx="1.5" fill="#ffffff" fill-opacity="0.85" stroke="#f2f2f2" stroke-width="0.8"/>
<line x1="229.5" y1="593.25" x2="247" y2="593.25" stroke="#55c855" stroke-width="1.3"/>
<text x="253.25" y="596.25" font-size="8.7" fill="#2a2a2a" stroke="#2a2a2a" stroke-width="0.3" textLength="44.00" lengthAdjust="spacingAndGlyphs">Stroma G1</text>
<line x1="229.5" y1="605.5" x2="247" y2="605.5" stroke="#80a8ea" stroke-width="1.3"/>
<text x="253.25" y="608.50" font-size="8.7" fill="#2a2a2a" stroke="#2a2a2a" stroke-width="0.3" textLength="44.00" lengthAdjust="spacingAndGlyphs">Stroma G2</text>
<line x1="229.5" y1="617.5" x2="247" y2="617.5" stroke="#c69e4e" stroke-width="1.3"/>
<text x="253.25" y="620.50" font-size="8.7" fill="#2a2a2a" stroke="#2a2a2a" stroke-width="0.3" textLength="44.00" lengthAdjust="spacingAndGlyphs">Stroma G3</text>
<rect x="78.1" y="581.2" width="53.30" height="69.80" fill="none" stroke="#ec1313" stroke-width="2"/>
<rect x="168.5" y="633.8" width="55.10" height="25.50" fill="none" stroke="#ec1313" stroke-width="2"/>
<clipPath id="clipDR"><rect x="424.25" y="582" width="252.75" height="130.20000000000005"/></clipPath>
<line x1="424.25" y1="582" x2="677" y2="582" stroke="#e0e0e0" stroke-width="1.3"/>
<line x1="424.25" y1="712.2" x2="677" y2="712.2" stroke="#e0e0e0" stroke-width="1.3"/>
<line x1="424.25" y1="582" x2="424.25" y2="712.2" stroke="#d2d2d2" stroke-width="1.2"/>
<line x1="677" y1="582" x2="677" y2="712.2" stroke="#d2d2d2" stroke-width="1.2"/>
<text x="422.65" y="586.20" font-size="7.0" text-anchor="end" fill="#333333" stroke="#333333" stroke-width="0.3" textLength="13.69" lengthAdjust="spacingAndGlyphs">0.04</text>
<text x="422.65" y="606.80" font-size="7.0" text-anchor="end" fill="#333333" stroke="#333333" stroke-width="0.3" textLength="13.69" lengthAdjust="spacingAndGlyphs">0.03</text>
<text x="422.65" y="627.40" font-size="7.0" text-anchor="end" fill="#333333" stroke="#333333" stroke-width="0.3" textLength="13.69" lengthAdjust="spacingAndGlyphs">0.02</text>
<text x="422.65" y="648.00" font-size="7.0" text-anchor="end" fill="#333333" stroke="#333333" stroke-width="0.3" textLength="13.69" lengthAdjust="spacingAndGlyphs">0.01</text>
<text x="422.65" y="668.60" font-size="7.0" text-anchor="end" fill="#333333" stroke="#333333" stroke-width="0.3" textLength="13.69" lengthAdjust="spacingAndGlyphs">0.00</text>
<text x="422.65" y="689.20" font-size="7.0" text-anchor="end" fill="#333333" stroke="#333333" stroke-width="0.3" textLength="18.84" lengthAdjust="spacingAndGlyphs">−0.01</text>
<text x="422.65" y="709.80" font-size="7.0" text-anchor="end" fill="#333333" stroke="#333333" stroke-width="0.3" textLength="18.84" lengthAdjust="spacingAndGlyphs">−0.02</text>
<text x="424.50" y="719.00" font-size="7.0" text-anchor="middle" fill="#333333" stroke="#333333" stroke-width="0.3" textLength="11.73" lengthAdjust="spacingAndGlyphs">500</text>
<text x="474.85" y="719.00" font-size="7.0" text-anchor="middle" fill="#333333" stroke="#333333" stroke-width="0.3" textLength="11.73" lengthAdjust="spacingAndGlyphs">550</text>
<text x="525.20" y="719.00" font-size="7.0" text-anchor="middle" fill="#333333" stroke="#333333" stroke-width="0.3" textLength="11.73" lengthAdjust="spacingAndGlyphs">600</text>
<text x="575.55" y="719.00" font-size="7.0" text-anchor="middle" fill="#333333" stroke="#333333" stroke-width="0.3" textLength="11.73" lengthAdjust="spacingAndGlyphs">650</text>
<text x="625.90" y="719.00" font-size="7.0" text-anchor="middle" fill="#333333" stroke="#333333" stroke-width="0.3" textLength="11.73" lengthAdjust="spacingAndGlyphs">700</text>
<text x="676.25" y="719.00" font-size="7.0" text-anchor="middle" fill="#333333" stroke="#333333" stroke-width="0.3" textLength="11.73" lengthAdjust="spacingAndGlyphs">750</text>
<text x="550.62" y="726.70" font-size="8.9" text-anchor="middle" fill="#2a2a2a" stroke="#2a2a2a" stroke-width="0.3" textLength="76.34" lengthAdjust="spacingAndGlyphs">Wavelength in nm</text>
<text transform="translate(400.80,647.10) rotate(-90)" x="0" y="0" font-size="8.9" text-anchor="middle" fill="#2a2a2a" stroke="#2a2a2a" stroke-width="0.3" textLength="88.98" lengthAdjust="spacingAndGlyphs">Transmittance in a.u.</text>
<g clip-path="url(#clipDR)" fill="none" stroke-width="1.45" stroke-linejoin="round">
<polyline points="424.50,697.21 429.54,703.80 434.57,705.45 439.61,700.09 444.64,684.43 449.68,658.68 454.71,632.93 459.75,609.24 464.78,594.41 469.81,588.03 474.85,589.47 479.88,599.15 484.92,614.60 489.95,629.02 494.99,643.44 500.02,651.68 505.06,656.83 510.09,659.10 515.13,658.68 517.14,658.12 519.16,657.25 521.17,656.44 523.19,655.63 525.20,654.77 527.21,653.83 529.23,652.82 531.24,651.77 533.26,650.70 535.27,649.62 537.28,648.52 539.30,647.37 541.31,646.22 543.33,645.10 545.34,644.06 547.35,643.09 549.37,642.16 551.38,641.26 553.40,640.39 555.41,639.53 557.42,638.62 559.44,637.69 561.45,636.86 563.47,636.23 565.48,635.73 567.49,635.30 569.51,635.03 571.52,634.99 573.54,634.99 575.55,634.99 577.56,634.99 579.58,635.14 581.59,635.50 583.61,635.98 585.62,636.53 587.63,637.35 589.65,638.33 591.66,639.32 593.68,640.29 595.69,641.30 597.70,642.32 599.72,643.32 601.73,644.31 603.75,645.31 605.76,646.32 607.77,647.38 609.79,648.46 611.80,649.52 613.82,650.54 615.83,651.56 617.84,652.50 619.86,653.29 621.87,653.99 623.89,654.61 625.90,655.18 627.91,655.72 629.93,656.23 631.94,656.66 633.96,656.98 635.97,657.23 637.98,657.45 640.00,657.65 642.01,657.84 644.03,658.02 646.04,658.19 648.05,658.36 650.07,658.52 652.08,658.69 654.10,658.89 656.11,659.14 658.12,659.43 660.14,659.75 662.15,660.10 664.17,660.53 666.18,660.97 668.19,661.36 670.21,661.71 672.22,662.03 674.24,662.33 676.25,662.60" stroke="#55c855" stroke-width="1.35"/>
<polyline points="424.50,697.00 429.54,704.21 434.57,706.89 439.61,701.94 444.64,686.29 449.68,660.54 454.71,634.99 459.75,613.78 464.78,600.80 469.81,596.27 474.85,598.53 479.88,607.39 484.92,621.19 489.95,634.17 494.99,645.50 500.02,653.74 505.06,657.86 510.09,659.10 515.13,658.48 517.14,657.73 519.16,656.58 521.17,655.43 523.19,654.18 525.20,652.92 527.21,651.69 529.23,650.47 531.24,649.25 533.26,648.01 535.27,646.74 537.28,645.41 539.30,644.05 541.31,642.67 543.33,641.29 545.34,639.94 547.35,638.59 549.37,637.25 551.38,635.91 553.40,634.60 555.41,633.34 557.42,632.12 559.44,630.88 561.45,629.74 563.47,628.81 565.48,628.03 567.49,627.33 569.51,626.86 571.52,626.70 573.54,626.62 575.55,626.57 577.56,626.55 579.58,626.77 581.59,627.33 583.61,628.04 585.62,628.78 587.63,629.71 589.65,630.79 591.66,631.90 593.68,633.07 595.69,634.31 597.70,635.59 599.72,636.87 601.73,638.17 603.75,639.48 605.76,640.76 607.77,642.01 609.79,643.23 611.80,644.46 613.82,645.74 615.83,647.10 617.84,648.41 619.86,649.56 621.87,650.63 623.89,651.62 625.90,652.50 627.91,653.31 629.93,654.05 631.94,654.70 633.96,655.23 635.97,655.69 637.98,656.09 640.00,656.42 642.01,656.68 644.03,656.90 646.04,657.12 648.05,657.38 650.07,657.66 652.08,657.96 654.10,658.27 656.11,658.60 658.12,658.94 660.14,659.31 662.15,659.72 664.17,660.20 666.18,660.70 668.19,661.16 670.21,661.56 672.22,661.93 674.24,662.28 676.25,662.60" stroke="#80a8ea" stroke-width="1.35"/>
<polyline points="424.50,687.73 429.54,692.67 434.57,695.35 439.61,691.64 444.64,682.58 449.68,664.25 454.71,644.06 459.75,627.58 464.78,616.45 469.81,612.54 474.85,612.95 479.88,619.34 484.92,630.26 489.95,640.35 494.99,648.59 500.02,655.18 505.06,658.68 510.09,660.13 515.13,659.71 517.14,659.17 519.16,658.31 521.17,657.38 523.19,656.28 525.20,655.18 527.21,654.20 529.23,653.27 531.24,652.35 533.26,651.42 535.27,650.44 537.28,649.40 539.30,648.29 541.31,647.18 543.33,646.10 545.34,645.09 547.35,644.16 549.37,643.27 551.38,642.41 553.40,641.58 555.41,640.76 557.42,639.92 559.44,639.08 561.45,638.30 563.47,637.67 565.48,637.11 567.49,636.60 569.51,636.28 571.52,636.23 573.54,636.23 575.55,636.23 577.56,636.23 579.58,636.40 581.59,636.83 583.61,637.39 585.62,637.99 587.63,638.82 589.65,639.79 591.66,640.76 593.68,641.73 595.69,642.74 597.70,643.76 599.72,644.77 601.73,645.79 603.75,646.80 605.76,647.77 607.77,648.67 609.79,649.53 611.80,650.40 613.82,651.34 615.83,652.37 617.84,653.34 619.86,654.09 621.87,654.73 623.89,655.29 625.90,655.80 627.91,656.26 629.93,656.68 631.94,657.07 633.96,657.41 635.97,657.73 637.98,658.03 640.00,658.27 642.01,658.47 644.03,658.64 646.04,658.80 648.05,658.98 650.07,659.15 652.08,659.32 654.10,659.51 656.11,659.72 658.12,659.95 660.14,660.20 662.15,660.47 664.17,660.75 666.18,661.06 668.19,661.36 670.21,661.67 672.22,661.97 674.24,662.28 676.25,662.60" stroke="#c69e4e" stroke-width="1.35"/>
</g>
<rect x="610.25" y="586.25" width="61.75" height="39.25" rx="1.5" fill="#ffffff" fill-opacity="0.85" stroke="#f2f2f2" stroke-width="0.8"/>
<line x1="613.25" y1="593.25" x2="630.25" y2="593.25" stroke="#55c855" stroke-width="1.3"/>
<text x="636.50" y="596.25" font-size="8.7" fill="#2a2a2a" stroke="#2a2a2a" stroke-width="0.3" textLength="30.69" lengthAdjust="spacingAndGlyphs">EAC G1</text>
<line x1="613.25" y1="605.75" x2="630.25" y2="605.75" stroke="#80a8ea" stroke-width="1.3"/>
<text x="636.50" y="608.75" font-size="8.7" fill="#2a2a2a" stroke="#2a2a2a" stroke-width="0.3" textLength="30.69" lengthAdjust="spacingAndGlyphs">EAC G2</text>
<line x1="613.25" y1="618" x2="630.25" y2="618" stroke="#c69e4e" stroke-width="1.3"/>
<text x="636.50" y="621.00" font-size="8.7" fill="#2a2a2a" stroke="#2a2a2a" stroke-width="0.3" textLength="30.69" lengthAdjust="spacingAndGlyphs">EAC G3</text>
<text x="4.4" y="26" font-size="15.5" font-weight="bold" fill="#111" stroke="#111" stroke-width="0.4">A</text>
<text x="5" y="198.4" font-size="15.5" font-weight="bold" fill="#111" stroke="#111" stroke-width="0.4">B</text>
<text x="5" y="388" font-size="15.5" font-weight="bold" fill="#111" stroke="#111" stroke-width="0.4">C</text>
<text x="5" y="577" font-size="15.5" font-weight="bold" fill="#111" stroke="#111" stroke-width="0.4">D</text>
<text x="83" y="16.4" font-size="14.8" fill="#1d1d2b" stroke="#1d1d2b" stroke-width="0.45" textLength="38" lengthAdjust="spacingAndGlyphs">Eosin</text>
<text x="170" y="16.4" font-size="14.8" fill="#1d1d2b" stroke="#1d1d2b" stroke-width="0.45" textLength="91" lengthAdjust="spacingAndGlyphs">Hematoxylin</text>
<line x1="101.5" y1="25" x2="101.5" y2="35.5" stroke="#222" stroke-width="1.3" stroke-dasharray="2.4,1.1"/>
<polygon points="96.6,35.1 106.4,35.1 101.5,44.9" fill="#000"/>
<line x1="201" y1="25" x2="201" y2="35.5" stroke="#222" stroke-width="1.3" stroke-dasharray="2.4,1.1"/>
<polygon points="196.1,35.1 205.9,35.1 201,44.9" fill="#000"/>
<text x="226" y="202.4" font-size="12.2" font-weight="bold" fill="#0d0d14" stroke="#0d0d14" stroke-width="0.5" textLength="234" lengthAdjust="spacingAndGlyphs">Accuracy= 48%±1 (Logistic regression)</text>
<text x="222" y="380.2" font-size="12.2" font-weight="bold" fill="#0d0d14" stroke="#0d0d14" stroke-width="0.5" textLength="234" lengthAdjust="spacingAndGlyphs">Accuracy= 64%±0 (Logistic regression)</text>
<text x="225.6" y="564.6" font-size="12.2" font-weight="bold" fill="#0d0d14" stroke="#0d0d14" stroke-width="0.5" textLength="234.4" lengthAdjust="spacingAndGlyphs">Accuracy= 98%±0 (Logistic regression)</text>
<text x="222" y="758.6" font-size="12.2" font-weight="bold" fill="#0d0d14" stroke="#0d0d14" stroke-width="0.5" textLength="261" lengthAdjust="spacingAndGlyphs">Accuracy= 38%±0 (Multi-layer perceptron)</text>
</svg></body></html>
